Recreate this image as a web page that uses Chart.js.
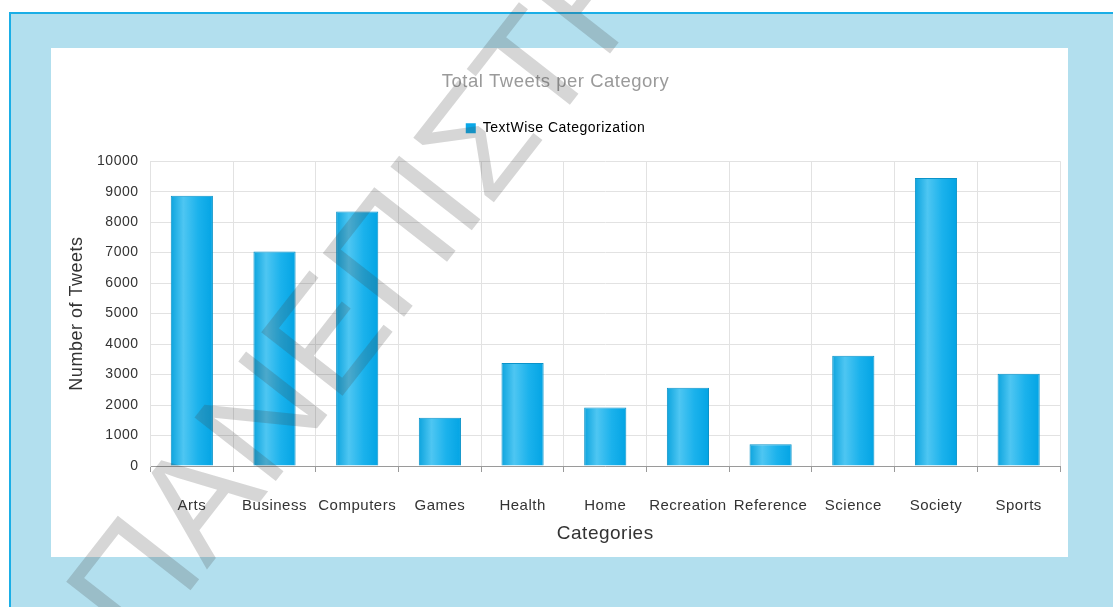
<!DOCTYPE html>
<html>
<head>
<meta charset="utf-8">
<script src="https://cdn.jsdelivr.net/npm/chart.js@4.4.1/dist/chart.umd.min.js"></script>
<style>
  html, body { margin: 0; padding: 0; background: #ffffff; width: 1113px; height: 607px; overflow: hidden; }
  #frame {
    position: absolute; left: 9px; top: 12px; width: 1200px; height: 700px;
    background: #b2dfee; border-left: 2px solid #1aaee6; border-top: 2px solid #1aaee6;
  }
  #panel { position: absolute; left: 51px; top: 48px; width: 1017px; height: 509px; background: #ffffff; }
  #stamp { position: absolute; left: 0; top: 0; pointer-events: none; }
</style>
</head>
<body>
<div id="frame"></div>
<div id="panel"><canvas id="chart" width="1017" height="509"></canvas></div>
<canvas id="stamp" width="1113" height="607"></canvas>
<script>
// Tweet counts per TextWise category
const categories = ['Arts', 'Business', 'Computers', 'Games', 'Health', 'Home',
                    'Recreation', 'Reference', 'Science', 'Society', 'Sports'];
const tweetCounts = [8870, 7040, 8350, 1580, 3380, 1920, 2570, 710, 3620, 9450, 3030];
const seriesName = 'TextWise Categorization';
const yTicks = [0, 1000, 2000, 3000, 4000, 5000, 6000, 7000, 8000, 9000, 10000];

const FONT = "'Liberation Sans', Arial, sans-serif";
const BAR_PCT = 0.51;
const SPACING = '0.5px';

// horizontal cylinder-like shading for each bar
function barGradient(ctx) {
  const chart = ctx.chart;
  const xs = chart.scales.x;
  if (!xs || ctx.type !== 'data') return '#0aa8e8';
  const cx = xs.getPixelForValue(ctx.dataIndex);
  const w = (xs.width / categories.length) * BAR_PCT;
  const g = chart.ctx.createLinearGradient(cx - w / 2, 0, cx + w / 2, 0);
  g.addColorStop(0, '#0ca4de');
  g.addColorStop(0.3, '#4ec6f2');
  g.addColorStop(0.65, '#1bb2ec');
  g.addColorStop(1, '#03a4e4');
  return g;
}

// slightly tracked-out lettering for all chart text
const letterSpacingPlugin = {
  id: 'letterSpacing',
  beforeLayout(chart) { chart.ctx.letterSpacing = SPACING; },
  beforeDraw(chart) { chart.ctx.letterSpacing = SPACING; }
};

// extra room between the legend and the plot
const legendGapPlugin = {
  id: 'legendGap',
  beforeInit(chart) {
    const legend = chart.legend;
    const fit = legend.fit;
    legend.fit = function () { fit.call(this); this.height += 16; };
  }
};

new Chart(document.getElementById('chart'), {
  type: 'bar',
  data: {
    labels: categories,
    datasets: [{
      label: seriesName,
      data: tweetCounts,
      backgroundColor: barGradient,
      borderColor: '#0a93c9',
      borderWidth: 1,
      barPercentage: BAR_PCT,
      categoryPercentage: 1
    }]
  },
  plugins: [letterSpacingPlugin, legendGapPlugin],
  options: {
    responsive: false,
    animation: false,
    layout: { padding: { left: 0, right: 8, top: 0, bottom: 0 } },
    plugins: {
      title: {
        display: true,
        text: 'Total Tweets per Category',
        color: '#9a9a9a',
        font: { family: FONT, size: 18.5, weight: 'normal' },
        padding: { top: 23, bottom: 18 }
      },
      legend: {
        display: true,
        labels: {
          font: { family: FONT, size: 14 },
          color: '#333333',
          boxWidth: 10,
          boxHeight: 10,
          padding: 10,
          generateLabels: () => [{
            text: seriesName, fillStyle: '#0aa8e8', strokeStyle: '#0aa8e8',
            lineWidth: 0, datasetIndex: 0, hidden: false
          }]
        }
      },
      tooltip: { enabled: false }
    },
    scales: {
      x: {
        grid: { color: '#e2e2e2', tickColor: '#9a9a9a', tickLength: 6, offset: true },
        border: { color: '#9a9a9a', width: 1 },
        ticks: { color: '#333333', font: { family: FONT, size: 15 }, padding: 25, maxRotation: 0, autoSkip: false },
        title: {
          display: true, text: 'Categories', color: '#333333',
          font: { family: FONT, size: 19 }, padding: { top: 0, bottom: 12 }
        },
        afterFit: (s) => { s.height = 91; }
      },
      y: {
        min: 0, max: 10000,
        afterBuildTicks: (s) => { s.ticks = yTicks.map(v => ({ value: v })); },
        grid: { color: '#e2e2e2', drawTicks: false },
        border: { color: '#e2e2e2' },
        ticks: { color: '#333333', font: { family: FONT, size: 14 }, padding: 12, callback: (v) => String(v) },
        title: {
          display: true, text: 'Number of Tweets', color: '#333333',
          font: { family: FONT, size: 18 }, padding: { top: 15, bottom: 0 }
        },
        afterFit: (s) => { s.width = 99.5; }
      }
    }
  }
});

// university stamp across the page
(function drawStamp() {
  const c = document.getElementById('stamp').getContext('2d');
  c.save();
  c.translate(140, 655);
  c.rotate(-52 * Math.PI / 180);
  c.font = "150px " + FONT;
  c.fillStyle = 'rgba(70,70,70,0.22)';
  c.textBaseline = 'alphabetic';
  c.fillText('ΠΑΝΕΠΙΣΤΗΜΙΟ', 0, 0);
  c.restore();
})();
</script>
</body>
</html>
